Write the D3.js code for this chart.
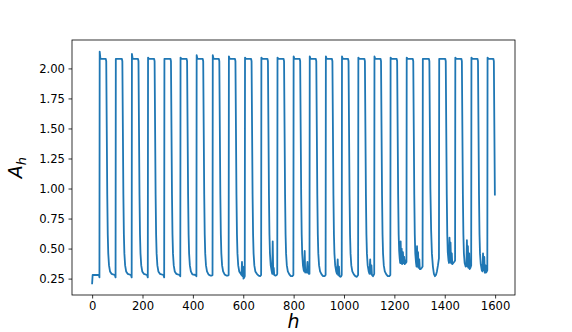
<!DOCTYPE html>
<html>
<head>
<meta charset="utf-8">
<script src="https://cdn.jsdelivr.net/npm/d3@7"></script>
<style>
  body { margin: 0; background: #fff; }
  .axis text { font-family: "DejaVu Sans", sans-serif; font-size: 11.6px; fill: #000; }
  .axis line { stroke: #000; stroke-width: 0.8; }
  .axis path { display: none; }
</style>
</head>
<body>
<div id="chart"></div>
<script>
// tick values
var xTicks = [0, 200, 400, 600, 800, 1000, 1200, 1400, 1600];
var yTicks = [0.25, 0.50, 0.75, 1.00, 1.25, 1.50, 1.75, 2.00];

// start of the trace, before the first pulse
var leadIn = [[0, 0.21], [2, 0.28], [27, 0.28], [29, 0.26]];

// A_h against h
var pulses = [
  [[30,2.14],[33,2.08],[54,2.08],[56,2.06],[58,1.5],[60,0.95],[62,0.62],[64,0.46],[67,0.36],[71,0.31],[77,0.29],[90,0.28],[93,0.26]],
  [[94,2.08],[97,2.08],[118,2.08],[120,2.06],[122,1.5],[124,0.95],[126,0.62],[128,0.46],[131,0.36],[135,0.31],[141,0.29],[154,0.28],[157,0.26]],
  [[158,2.12],[161,2.08],[182,2.08],[184,2.06],[186,1.5],[188,0.95],[190,0.62],[192,0.46],[195,0.36],[199,0.31],[205,0.29],[218,0.28],[221,0.26]],
  [[222,2.09],[225,2.08],[246,2.08],[248,2.06],[250,1.5],[252,0.95],[254,0.62],[256,0.46],[259,0.36],[263,0.31],[269,0.29],[283,0.28],[286,0.26]],
  [[287,2.08],[290,2.08],[311,2.08],[313,2.06],[315,1.5],[317,0.95],[319,0.62],[321,0.46],[324,0.36],[328,0.31],[334,0.29],[347,0.28],[350,0.27]],
  [[351,2.09],[354,2.08],[375,2.08],[377,2.06],[379,1.5],[381,0.95],[383,0.62],[385,0.46],[388,0.36],[392,0.31],[398,0.285],[411,0.28],[414,0.27]],
  [[415,2.11],[418,2.08],[439,2.08],[441,2.06],[443,1.5],[445,0.95],[447,0.62],[449,0.46],[452,0.36],[456,0.31],[462,0.285],[469,0.275],[475,0.275],[478,0.28]],
  [[479,2.11],[482,2.08],[503,2.08],[505,2.06],[507,1.5],[509,0.95],[511,0.62],[513,0.46],[516,0.36],[520,0.31],[526,0.285],[533,0.275],[539,0.275],[542,0.28]],
  [[543,2.10],[546,2.08],[567,2.08],[569,2.06],[571,1.5],[573,0.95],[575,0.62],[577,0.46],[580,0.36],[584,0.31],[590,0.29],[593,0.28],[595,0.39],[597,0.27],[599,0.35],[601,0.25],[604,0.26],[606,0.27]],
  [[607,2.09],[610,2.08],[631,2.08],[633,2.06],[635,1.5],[637,0.95],[639,0.62],[641,0.46],[644,0.36],[648,0.31],[654,0.29],[661,0.275],[667,0.27],[671,0.28]],
  [[672,2.09],[675,2.08],[696,2.08],[698,2.06],[700,1.5],[702,0.95],[704,0.62],[706,0.46],[709,0.36],[713,0.31],[715,0.29],[717,0.56],[719,0.29],[721,0.34],[723,0.28],[728,0.275],[733,0.28],[735,0.29]],
  [[736,2.09],[739,2.08],[760,2.08],[762,2.06],[764,1.5],[766,0.95],[768,0.62],[770,0.46],[773,0.36],[777,0.31],[783,0.285],[789,0.27],[795,0.27],[799,0.28]],
  [[800,2.10],[803,2.08],[824,2.08],[826,2.06],[828,1.5],[830,0.95],[832,0.62],[834,0.46],[837,0.36],[840,0.32],[842,0.31],[844,0.48],[846,0.30],[849,0.31],[852,0.30],[855,0.39],[857,0.30],[860,0.29],[863,0.29]],
  [[864,2.10],[867,2.08],[888,2.08],[890,2.06],[892,1.5],[894,0.95],[896,0.62],[898,0.46],[901,0.36],[905,0.31],[911,0.285],[917,0.27],[923,0.27],[927,0.28]],
  [[928,2.10],[931,2.08],[952,2.08],[954,2.06],[956,1.5],[958,0.95],[960,0.62],[962,0.46],[965,0.36],[969,0.31],[972,0.29],[975,0.41],[977,0.28],[980,0.35],[982,0.27],[986,0.265],[989,0.27],[991,0.28]],
  [[992,2.10],[995,2.08],[1016,2.08],[1018,2.06],[1020,1.5],[1022,0.95],[1024,0.62],[1026,0.46],[1029,0.36],[1033,0.31],[1039,0.285],[1045,0.27],[1051,0.265],[1056,0.28]],
  [[1057,2.09],[1060,2.08],[1081,2.08],[1083,2.06],[1085,1.5],[1087,0.95],[1089,0.62],[1091,0.46],[1094,0.36],[1098,0.31],[1101,0.29],[1104,0.41],[1106,0.29],[1109,0.36],[1111,0.28],[1115,0.27],[1118,0.28],[1120,0.29]],
  [[1121,2.10],[1124,2.08],[1145,2.08],[1147,2.06],[1149,1.5],[1151,0.95],[1153,0.62],[1155,0.46],[1158,0.36],[1162,0.31],[1168,0.285],[1174,0.27],[1180,0.27],[1184,0.28]],
  [[1185,2.09],[1188,2.08],[1209,2.08],[1211,2.06],[1213,1.5],[1215,0.95],[1217,0.62],[1219,0.48],[1221,0.42],[1223,0.38],[1225,0.56],[1227,0.38],[1229,0.50],[1231,0.37],[1234,0.47],[1236,0.38],[1239,0.43],[1241,0.37],[1244,0.40],[1246,0.38],[1248,0.39]],
  [[1249,2.09],[1252,2.08],[1273,2.08],[1275,2.06],[1277,1.5],[1279,0.95],[1281,0.62],[1283,0.46],[1286,0.38],[1288,0.35],[1290,0.52],[1292,0.35],[1294,0.47],[1296,0.34],[1299,0.41],[1301,0.33],[1305,0.33],[1309,0.34],[1312,0.35]],
  [[1313,2.08],[1316,2.08],[1337,2.08],[1339,2.06],[1341,1.5],[1343,1.0],[1346,0.65],[1349,0.46],[1353,0.35],[1357,0.29],[1361,0.27],[1365,0.28],[1369,0.31],[1373,0.36],[1377,0.42]],
  [[1378,2.08],[1381,2.08],[1402,2.08],[1404,2.06],[1406,1.5],[1408,0.95],[1410,0.62],[1412,0.47],[1415,0.40],[1417,0.38],[1419,0.59],[1421,0.39],[1423,0.55],[1425,0.38],[1428,0.46],[1430,0.37],[1434,0.38],[1438,0.39],[1441,0.40]],
  [[1442,2.09],[1445,2.08],[1466,2.08],[1468,2.06],[1470,1.5],[1472,0.95],[1474,0.62],[1476,0.46],[1479,0.38],[1483,0.35],[1486,0.36],[1488,0.57],[1490,0.35],[1492,0.52],[1494,0.34],[1497,0.46],[1499,0.33],[1502,0.34],[1505,0.36]],
  [[1506,2.09],[1509,2.08],[1530,2.08],[1532,2.06],[1534,1.5],[1536,0.95],[1538,0.62],[1540,0.46],[1543,0.37],[1547,0.32],[1550,0.31],[1552,0.46],[1554,0.32],[1557,0.43],[1559,0.30],[1562,0.36],[1564,0.30],[1567,0.31],[1569,0.32]],
  [[1570,2.09],[1573,2.08],[1593,2.08],[1595,2.06],[1599,0.95]]
];

var data = leadIn.concat.apply(leadIn, pulses);

var margin = { top: 40, right: 57, bottom: 37, left: 72 },
    width = 572 - margin.left - margin.right,
    height = 332 - margin.top - margin.bottom;

// matplotlib style 5% padding around the data
var xExt = d3.extent(data, function (d) { return d[0]; }),
    yExt = d3.extent(data, function (d) { return d[1]; }),
    xPad = (xExt[1] - xExt[0]) * 0.05,
    yPad = (yExt[1] - yExt[0]) * 0.05;

var x = d3.scaleLinear().domain([xExt[0] - xPad, xExt[1] + xPad]).range([0, width]);
var y = d3.scaleLinear().domain([yExt[0] - yPad, yExt[1] + yPad]).range([height, 0]);

var svg = d3.select("#chart")
    .append("svg")
    .attr("width", 572)
    .attr("height", 332);

var g = svg.append("g")
    .attr("transform", "translate(" + margin.left + "," + margin.top + ")");

var line = d3.line()
    .x(function (d) { return x(d[0]); })
    .y(function (d) { return y(d[1]); });

g.append("path")
    .datum(data)
    .attr("fill", "none")
    .attr("stroke", "#1f77b4")
    .attr("stroke-width", 1.8)
    .attr("stroke-linejoin", "round")
    .attr("stroke-linecap", "square")
    .attr("d", line);

// axes
g.append("g")
    .attr("class", "axis")
    .attr("transform", "translate(0," + height + ")")
    .call(d3.axisBottom(x).tickValues(xTicks).tickSize(3.5).tickPadding(3.5).tickFormat(d3.format("d")));

g.append("g")
    .attr("class", "axis")
    .call(d3.axisLeft(y).tickValues(yTicks).tickSize(3.5).tickPadding(3.5).tickFormat(d3.format(".2f")));

// frame
g.append("rect")
    .attr("width", width)
    .attr("height", height)
    .attr("fill", "none")
    .attr("stroke", "#000")
    .attr("stroke-width", 0.8);

// y label A_h
var yLab = svg.append("text")
    .attr("transform", "translate(22," + (margin.top + height / 2) + ") rotate(-90)")
    .attr("text-anchor", "middle")
    .style("font-family", "DejaVu Sans, sans-serif")
    .style("font-style", "italic")
    .style("font-size", "19px");
yLab.append("tspan").text("A");
yLab.append("tspan").attr("dy", 3.5).style("font-size", "13px").text("h");

// x label h
svg.append("text")
    .attr("x", margin.left + width / 2)
    .attr("y", 328)
    .attr("text-anchor", "middle")
    .style("font-family", "DejaVu Sans, sans-serif")
    .style("font-style", "italic")
    .style("font-size", "19px")
    .text("h");
</script>
</body>
</html>
